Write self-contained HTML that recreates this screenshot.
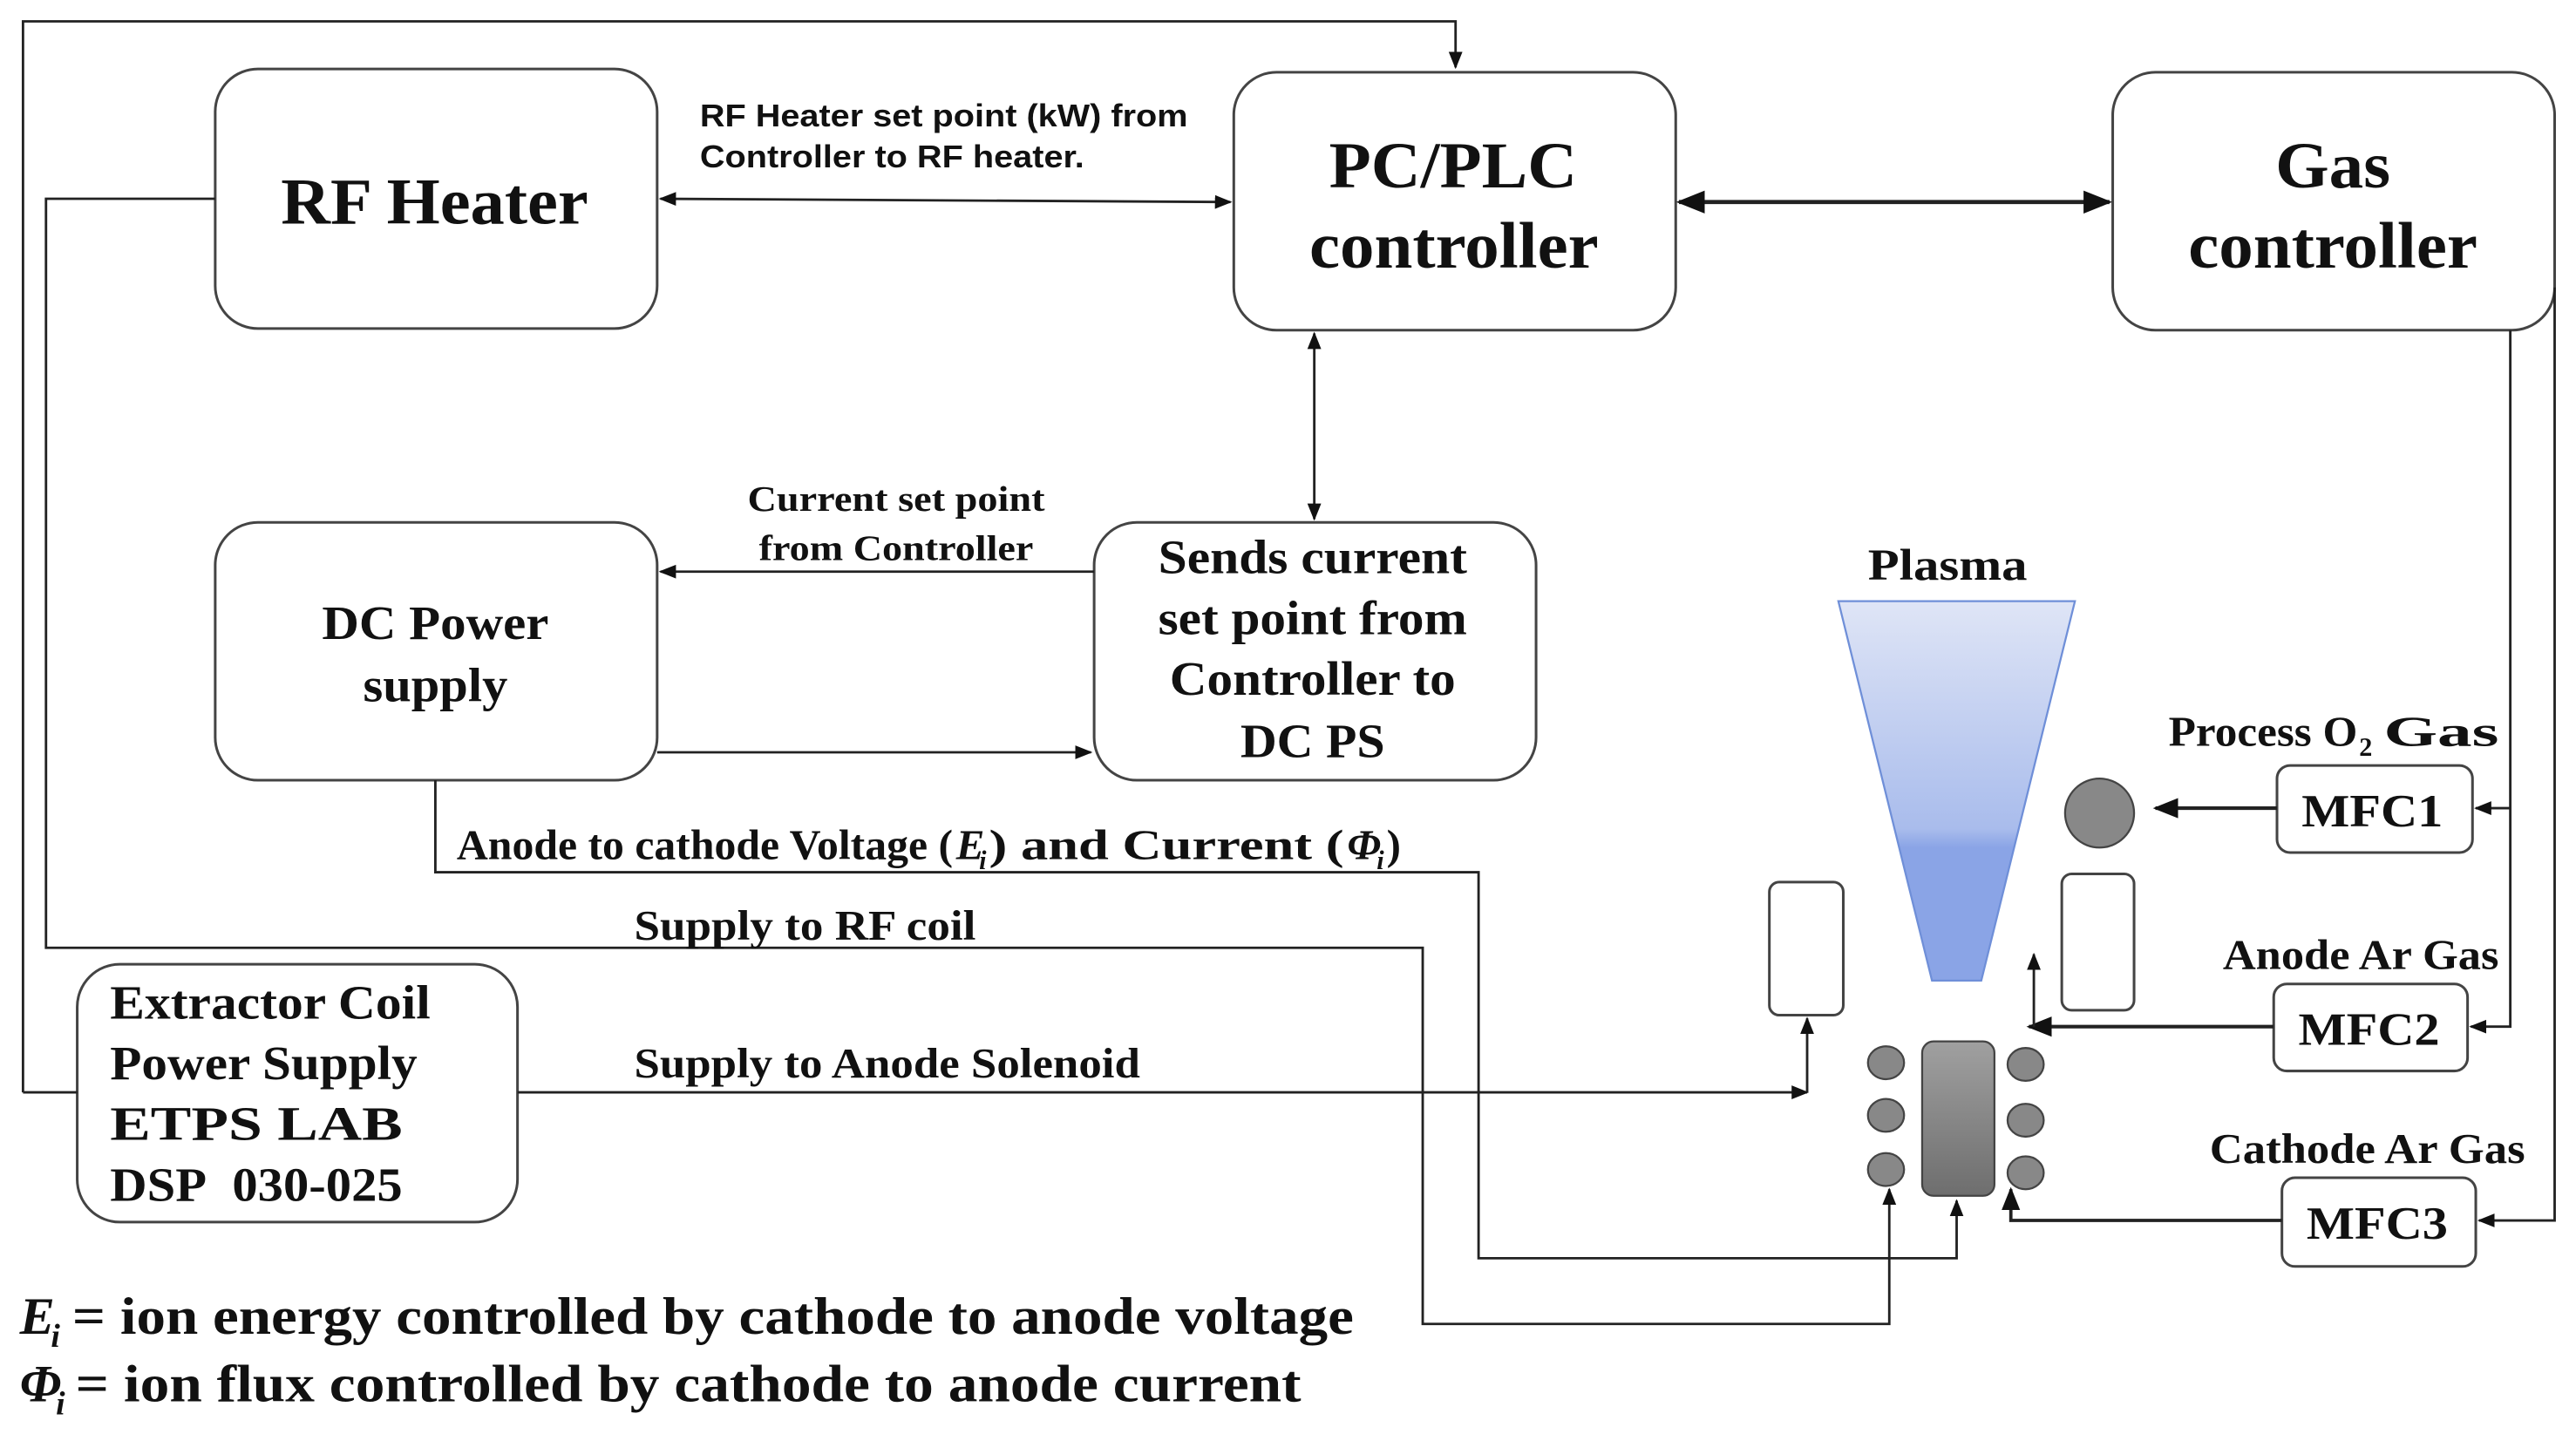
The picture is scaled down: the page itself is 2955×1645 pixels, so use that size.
<!DOCTYPE html>
<html><head><meta charset="utf-8"><style>
html,body{margin:0;padding:0;background:#fff;}
svg{display:block;}
.b{font-family:"Liberation Serif","DejaVu Serif",serif;font-weight:bold;fill:#111;}
.s{font-family:"Liberation Sans","DejaVu Sans",sans-serif;font-weight:bold;fill:#111;}
</style></head><body>
<svg width="2955" height="1645" viewBox="0 0 1568 873" preserveAspectRatio="none" xmlns="http://www.w3.org/2000/svg">
<defs>
<marker id="a" viewBox="0 0 10 10" refX="9" refY="5" markerWidth="7" markerHeight="7" orient="auto-start-reverse"><path d="M0,1 L10,5 L0,9 z" fill="#111"/></marker>
<linearGradient id="pl" x1="0" y1="0" x2="0" y2="1"><stop offset="0" stop-color="#dfe5f6"/><stop offset="0.6" stop-color="#a9bcec"/><stop offset="0.65" stop-color="#8aa4e6"/><stop offset="1" stop-color="#8aa4e6"/></linearGradient>
<linearGradient id="gr" x1="0" y1="0" x2="0" y2="1"><stop offset="0" stop-color="#a0a0a0"/><stop offset="1" stop-color="#6e6e6e"/></linearGradient>
</defs>
<rect width="1568" height="873" fill="#fff"/>
<g fill="none" stroke="#444" stroke-width="1.6">
<rect x="131" y="42" width="269" height="158" rx="26"/>
<rect x="751" y="44" width="269" height="157" rx="26"/>
<rect x="1286" y="44" width="269" height="157" rx="26"/>
<rect x="131" y="318" width="269" height="157" rx="26"/>
<rect x="666" y="318" width="269" height="157" rx="26"/>
<rect x="47" y="587" width="268" height="157" rx="26"/>
<rect x="1386" y="466" width="119" height="53" rx="8"/>
<rect x="1384" y="599" width="118" height="53" rx="8"/>
<rect x="1389" y="717" width="118" height="54" rx="8"/>
<rect x="1077" y="537" width="45" height="81" rx="6"/>
<rect x="1255" y="532" width="44" height="83" rx="6"/>
</g>
<g fill="none" stroke="#222" stroke-width="1.5">
<path d="M14,665 V13 H886 V41" marker-end="url(#a)"/>
<path d="M14,665 H47"/>
<path d="M131,121 H28 V577 H866 V806 H1150 V724" marker-end="url(#a)"/>
<path d="M265,475 V531 H900 V766 H1191 V731" marker-end="url(#a)"/>
<path d="M315,665 H1100" marker-end="url(#a)"/>
<path d="M1100,665 V620" marker-end="url(#a)"/>
<path d="M402,121 L749,123" marker-start="url(#a)" marker-end="url(#a)"/>
<path d="M1022,123 H1284" stroke-width="2.5" marker-start="url(#a)" marker-end="url(#a)"/>
<path d="M800,203 V316" marker-start="url(#a)" marker-end="url(#a)"/>
<path d="M666,348 H402" marker-end="url(#a)"/>
<path d="M400,458 H664" marker-end="url(#a)"/>
<path d="M1528,201 V625 H1504" marker-end="url(#a)"/>
<path d="M1528,492 H1507" marker-end="url(#a)"/>
<path d="M1555,175 V743 H1509" marker-end="url(#a)"/>
<path d="M1386,492 H1312" stroke-width="2.2" marker-end="url(#a)"/>
<path d="M1384,625 H1235" stroke-width="2.2" marker-end="url(#a)"/>
<path d="M1238,625 V581" marker-end="url(#a)"/>
<path d="M1389,743 H1224 V724" stroke-width="2" marker-end="url(#a)"/>
</g>
<polygon points="1119,366 1263,366 1206,597 1176,597" fill="url(#pl)" stroke="#6f8fd8" stroke-width="1.2"/>
<rect x="1170" y="634" width="44" height="94" rx="7" fill="url(#gr)" stroke="#444" stroke-width="1.2"/>
<g fill="#888" stroke="#444" stroke-width="1.2">
<circle cx="1278" cy="495" r="21"/>
<ellipse cx="1148" cy="647" rx="11" ry="10"/><ellipse cx="1148" cy="679" rx="11" ry="10"/><ellipse cx="1148" cy="712" rx="11" ry="10"/>
<ellipse cx="1233" cy="648" rx="11" ry="10"/><ellipse cx="1233" cy="682" rx="11" ry="10"/><ellipse cx="1233" cy="714" rx="11" ry="10"/>
</g>
<g lengthAdjust="spacingAndGlyphs">
<text class="b" x="171" y="136" font-size="40" textLength="187" lengthAdjust="spacingAndGlyphs">RF Heater</text>
<text class="b" x="809" y="114" font-size="40" textLength="151" lengthAdjust="spacingAndGlyphs">PC/PLC</text>
<text class="b" x="797" y="163" font-size="40" textLength="176" lengthAdjust="spacingAndGlyphs">controller</text>
<text class="b" x="1385" y="114" font-size="40" textLength="70" lengthAdjust="spacingAndGlyphs">Gas</text>
<text class="b" x="1332" y="163" font-size="40" textLength="176" lengthAdjust="spacingAndGlyphs">controller</text>
<text class="b" x="196" y="389" font-size="29" textLength="138" lengthAdjust="spacingAndGlyphs">DC Power</text>
<text class="b" x="221" y="427" font-size="29" textLength="88" lengthAdjust="spacingAndGlyphs">supply</text>
<text class="b" x="705" y="349" font-size="29" textLength="188" lengthAdjust="spacingAndGlyphs">Sends current</text>
<text class="b" x="705" y="386" font-size="29" textLength="188" lengthAdjust="spacingAndGlyphs">set point from</text>
<text class="b" x="712" y="423" font-size="29" textLength="174" lengthAdjust="spacingAndGlyphs">Controller to</text>
<text class="b" x="755" y="461" font-size="29" textLength="88" lengthAdjust="spacingAndGlyphs">DC PS</text>
<text class="b" x="67" y="620" font-size="29" textLength="195" lengthAdjust="spacingAndGlyphs">Extractor Coil</text>
<text class="b" x="67" y="657" font-size="29" textLength="187" lengthAdjust="spacingAndGlyphs">Power Supply</text>
<text class="b" x="67" y="694" font-size="29" textLength="178" lengthAdjust="spacingAndGlyphs">ETPS LAB</text>
<text class="b" x="67" y="731" font-size="29" textLength="178" lengthAdjust="spacingAndGlyphs">DSP&#160; 030-025</text>
<text class="s" x="426" y="77" font-size="19" textLength="297" lengthAdjust="spacingAndGlyphs">RF Heater set point (kW) from</text>
<text class="s" x="426" y="102" font-size="19" textLength="234" lengthAdjust="spacingAndGlyphs">Controller to RF heater.</text>
<text class="b" x="455" y="311" font-size="22" textLength="181" lengthAdjust="spacingAndGlyphs">Current set point</text>
<text class="b" x="462" y="341" font-size="22" textLength="167" lengthAdjust="spacingAndGlyphs">from Controller</text>
<text class="b" x="278" y="523" font-size="26" textLength="302" lengthAdjust="spacingAndGlyphs">Anode to cathode Voltage (</text>
<text class="b" x="582" y="523" font-size="26" font-style="italic">E</text>
<text class="b" x="596" y="529" font-size="16" font-style="italic">i</text>
<text class="b" x="602" y="523" font-size="26" textLength="216" lengthAdjust="spacingAndGlyphs">) and Current (</text>
<text class="b" x="820" y="523" font-size="26" font-style="italic">Φ</text>
<text class="b" x="838" y="529" font-size="16" font-style="italic">i</text>
<text class="b" x="844" y="523" font-size="26">)</text>
<text class="b" x="386" y="572" font-size="26" textLength="208" lengthAdjust="spacingAndGlyphs">Supply to RF coil</text>
<text class="b" x="386" y="656" font-size="26" textLength="308" lengthAdjust="spacingAndGlyphs">Supply to Anode Solenoid</text>
<text class="b" x="1137" y="353" font-size="27" textLength="97" lengthAdjust="spacingAndGlyphs">Plasma</text>
<text class="b" x="1320" y="454" font-size="26" textLength="115" lengthAdjust="spacingAndGlyphs">Process O</text>
<text class="b" x="1436" y="460" font-size="16">2</text>
<text class="b" x="1451" y="454" font-size="26" textLength="70" lengthAdjust="spacingAndGlyphs">Gas</text>
<text class="b" x="1353" y="590" font-size="26" textLength="168" lengthAdjust="spacingAndGlyphs">Anode Ar Gas</text>
<text class="b" x="1345" y="708" font-size="26" textLength="192" lengthAdjust="spacingAndGlyphs">Cathode Ar Gas</text>
<text class="b" x="1401" y="503" font-size="28" textLength="86" lengthAdjust="spacingAndGlyphs">MFC1</text>
<text class="b" x="1399" y="636" font-size="28" textLength="86" lengthAdjust="spacingAndGlyphs">MFC2</text>
<text class="b" x="1404" y="754" font-size="28" textLength="86" lengthAdjust="spacingAndGlyphs">MFC3</text>
<text class="b" x="12" y="812" font-size="32" font-style="italic">E</text>
<text class="b" x="31" y="820" font-size="20" font-style="italic">i</text>
<text class="b" x="44" y="812" font-size="32" textLength="780" lengthAdjust="spacingAndGlyphs">= ion energy controlled by cathode to anode voltage</text>
<text class="b" x="12" y="853" font-size="32" font-style="italic">Φ</text>
<text class="b" x="34" y="861" font-size="20" font-style="italic">i</text>
<text class="b" x="46" y="853" font-size="32" textLength="746" lengthAdjust="spacingAndGlyphs">= ion flux controlled by cathode to anode current</text>
</g>
</svg>
</body></html>
